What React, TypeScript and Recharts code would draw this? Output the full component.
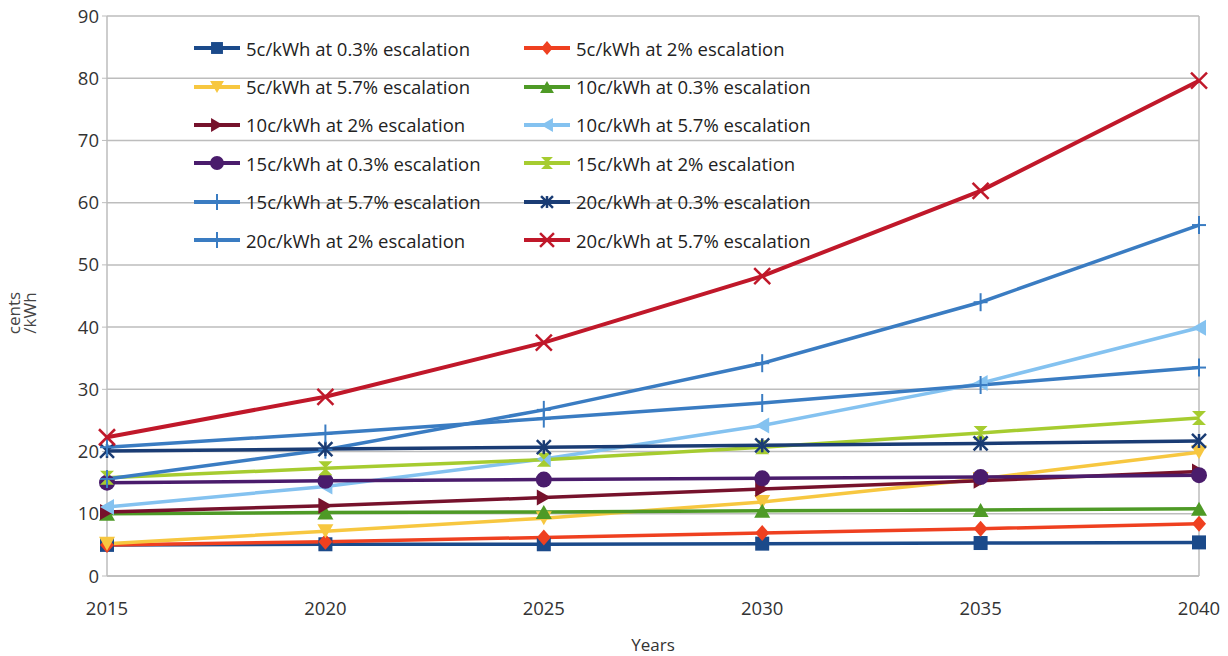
import React from "react";
import { LineChart, Line, XAxis, YAxis, CartesianGrid, ReferenceLine } from "recharts";

const years = ["2015", "2020", "2025", "2030", "2035", "2040"];
const yTicks = [0, 10, 20, 30, 40, 50, 60, 70, 80, 90];

const s5c03 = [5.0, 5.1, 5.1, 5.2, 5.3, 5.4];
const s5c2 = [5.0, 5.5, 6.2, 6.9, 7.6, 8.4];
const s5c57 = [5.2, 7.2, 9.3, 11.9, 15.6, 19.9];
const s10c03 = [10.0, 10.2, 10.3, 10.5, 10.6, 10.8];
const s10c2 = [10.3, 11.3, 12.6, 14.0, 15.3, 16.8];
const s10c57 = [11.1, 14.4, 18.8, 24.2, 31.0, 39.9];
const s15c03 = [15.0, 15.3, 15.5, 15.7, 15.9, 16.2];
const s15c2 = [15.8, 17.3, 18.7, 20.7, 23.0, 25.4];
const s15c57 = [15.6, 20.3, 26.7, 34.2, 44.0, 56.4];
const s20c03 = [20.1, 20.4, 20.7, 21.0, 21.3, 21.7];
const s20c2 = [20.7, 22.9, 25.3, 27.8, 30.7, 33.5];
const s20c57 = [22.3, 28.8, 37.5, 48.2, 61.9, 79.6];

type Shape = "square" | "diamond" | "down" | "up" | "right" | "left" | "circle" | "hourglass" | "plus" | "star" | "cross";

const series: { key: string; name: string; values: number[]; color: string; shape: Shape }[] = [
  { key: "a", name: "5c/kWh at 0.3% escalation", values: s5c03, color: "#1b4a8a", shape: "square" },
  { key: "b", name: "5c/kWh at 2% escalation", values: s5c2, color: "#ef4020", shape: "diamond" },
  { key: "c", name: "5c/kWh at 5.7% escalation", values: s5c57, color: "#f7c740", shape: "down" },
  { key: "d", name: "10c/kWh at 0.3% escalation", values: s10c03, color: "#4e9a26", shape: "up" },
  { key: "e", name: "10c/kWh at 2% escalation", values: s10c2, color: "#76122c", shape: "right" },
  { key: "f", name: "10c/kWh at 5.7% escalation", values: s10c57, color: "#84c2f0", shape: "left" },
  { key: "g", name: "15c/kWh at 0.3% escalation", values: s15c03, color: "#4a1c6c", shape: "circle" },
  { key: "h", name: "15c/kWh at 2% escalation", values: s15c2, color: "#a6cc30", shape: "hourglass" },
  { key: "i", name: "15c/kWh at 5.7% escalation", values: s15c57, color: "#3a7cc2", shape: "plus" },
  { key: "j", name: "20c/kWh at 0.3% escalation", values: s20c03, color: "#1a3c74", shape: "star" },
  { key: "k", name: "20c/kWh at 2% escalation", values: s20c2, color: "#3a7cc2", shape: "plus" },
  { key: "l", name: "20c/kWh at 5.7% escalation", values: s20c57, color: "#c0182a", shape: "cross" },
];

const data = years.map((year, i) => {
  const row: Record<string, string | number> = { year };
  series.forEach((s) => {
    row[s.key] = s.values[i];
  });
  return row;
});

function Mark({ cx, cy, shape, color, k = 1 }: { cx: number; cy: number; shape: Shape; color: string; k?: number }) {
  const r = 7 * k;
  switch (shape) {
    case "square":
      return <rect x={cx - r} y={cy - r} width={r * 2} height={r * 2} fill={color} />;
    case "diamond":
      return <polygon points={`${cx},${cy - r - 1} ${cx + r},${cy} ${cx},${cy + r + 1} ${cx - r},${cy}`} fill={color} />;
    case "down":
      return <polygon points={`${cx - r - 1},${cy - r} ${cx + r + 1},${cy - r} ${cx},${cy + r}`} fill={color} />;
    case "up":
      return <polygon points={`${cx - r - 1},${cy + r} ${cx + r + 1},${cy + r} ${cx},${cy - r}`} fill={color} />;
    case "right":
      return <polygon points={`${cx - r},${cy - r - 1} ${cx - r},${cy + r + 1} ${cx + r},${cy}`} fill={color} />;
    case "left":
      return <polygon points={`${cx + r},${cy - r - 1} ${cx + r},${cy + r + 1} ${cx - r},${cy}`} fill={color} />;
    case "circle":
      return <circle cx={cx} cy={cy} r={r + 1} fill={color} />;
    case "hourglass":
      return <polygon points={`${cx - r},${cy - r} ${cx + r},${cy - r} ${cx - r},${cy + r} ${cx + r},${cy + r}`} fill={color} />;
    case "plus":
      return (
        <g stroke={color} strokeWidth={2}>
          <line x1={cx} y1={cy - r - 2} x2={cx} y2={cy + r + 2} />
          <line x1={cx - r} y1={cy} x2={cx + r} y2={cy} />
        </g>
      );
    case "star":
      return (
        <g stroke={color} strokeWidth={2.5}>
          <line x1={cx} y1={cy - r} x2={cx} y2={cy + r} />
          <line x1={cx - r} y1={cy - r} x2={cx + r} y2={cy + r} />
          <line x1={cx - r} y1={cy + r} x2={cx + r} y2={cy - r} />
        </g>
      );
    case "cross":
      return (
        <g stroke={color} strokeWidth={2.5}>
          <line x1={cx - r - 1} y1={cy - r - 1} x2={cx + r + 1} y2={cy + r + 1} />
          <line x1={cx - r - 1} y1={cy + r + 1} x2={cx + r + 1} y2={cy - r - 1} />
        </g>
      );
  }
  return null;
}

const FONT = "'Open Sans', 'Liberation Sans', sans-serif";

function LegendBox() {
  return (
    <div
      style={{
        position: "absolute",
        left: 192,
        top: 29,
        display: "grid",
        gridTemplateColumns: "330px 330px",
        fontFamily: FONT,
        pointerEvents: "none",
      }}
    >
      {series.map((s) => (
        <div key={s.key} style={{ display: "flex", alignItems: "center", height: 38.4 }}>
          <svg width={50} height={20} style={{ marginRight: 4 }}>
            <line x1={2} y1={10} x2={48} y2={10} stroke={s.color} strokeWidth={4} />
            <Mark cx={25} cy={10} shape={s.shape} color={s.color} k={0.85} />
          </svg>
          <span style={{ fontSize: 18.5, color: "#222", whiteSpace: "nowrap" }}>{s.name}</span>
        </div>
      ))}
    </div>
  );
}

function YTitle() {
  const x = 26;
  const y = 313;
  return (
    <text transform={`rotate(-90, ${x}, ${y})`} x={x} y={y} textAnchor="middle" fill="#444" fontSize={17} fontFamily={FONT}>
      <tspan x={x} dy={-6}>cents</tspan>
      <tspan x={x} dy={16}>/kWh</tspan>
    </text>
  );
}

export default function App() {
  return (
    <div style={{ position: "absolute", left: 0, top: 0, width: 1228, height: 656, background: "#fff" }}>
      <LineChart width={1228} height={656} data={data} margin={{ top: 16, right: 29, left: 0, bottom: 0 }}>
        <CartesianGrid vertical={false} stroke="#bdbdbd" strokeWidth={1.5} />
        <XAxis
          dataKey="year"
          height={80}
          axisLine={{ stroke: "#bdbdbd", strokeWidth: 1.5 }}
          tickLine={false}
          tickMargin={20}
          tick={{ fill: "#333", fontSize: 18.5, fontFamily: FONT }}
          label={{ value: "Years", position: "insideBottom", offset: 5, fill: "#333", fontSize: 17, fontFamily: FONT }}
        />
        <YAxis
          domain={[0, 90]}
          ticks={yTicks}
          width={107}
          interval={0}
          axisLine={{ stroke: "#bdbdbd", strokeWidth: 1.5 }}
          tickLine={{ stroke: "#bdbdbd" }}
          tickSize={5}
          tickMargin={3}
          tick={{ fill: "#333", fontSize: 18.5, fontFamily: FONT }}
          label={<YTitle />}
        />
        <ReferenceLine x="2040" stroke="#bdbdbd" strokeWidth={1.5} />
        {series.map((s) => (
          <Line
            key={s.key}
            dataKey={s.key}
            name={s.name}
            stroke={s.color}
            strokeWidth={s.key === "l" ? 4 : 3.5}
            isAnimationActive={false}
            dot={(p: any) => <Mark key={`${s.key}-${p.index}`} cx={p.cx} cy={p.cy} shape={s.shape} color={s.color} />}
            activeDot={false}
          />
        ))}
      </LineChart>
      <LegendBox />
    </div>
  );
}
